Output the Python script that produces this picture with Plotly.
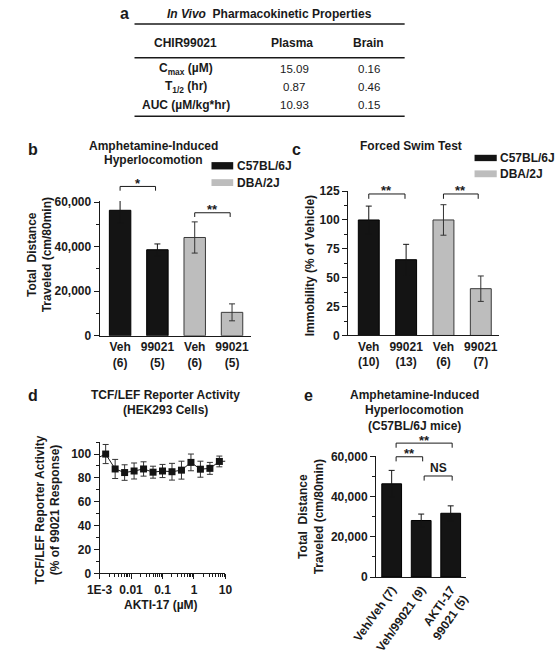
import plotly.graph_objects as go

# ---------------- data ----------------
table_title = "<b><i>In Vivo</i>  Pharmacokinetic Properties</b>"
table_header = ["CHIR99021", "Plasma", "Brain"]
table_params = ["C<sub>max</sub> (µM)", "T<sub>1/2</sub> (hr)", "AUC (µM/kg*hr)"]
plasma_vals = ["15.09", "0.87", "10.93"]
brain_vals = ["0.16", "0.46", "0.15"]

b_labels = ["Veh<br>(6)", "99021<br>(5)", "Veh<br>(6)", "99021<br>(5)"]
b_c57_mean = [56300, 38600]
b_c57_sem = [5800, 2600]
b_dba_mean = [44100, 10500]
b_dba_sem = [7000, 3800]
b_sig = [(0, 0.95, 67000, "*"), (2, 2.95, 55200, "**")]

c_labels = ["Veh<br>(10)", "99021<br>(13)", "Veh<br>(6)", "99021<br>(7)"]
c_c57_mean = [100, 65.6]
c_c57_sem = [12, 13.3]
c_dba_mean = [100, 40.5]
c_dba_sem = [13.2, 11]
c_sig = [(0, 0.97, 122.5, "**"), (2, 2.93, 122.5, "**")]

d_conc = [0.0015625, 0.003125, 0.00625, 0.0125, 0.025, 0.05, 0.1, 0.2, 0.4, 0.8, 1.6, 3.2, 6.4]
d_mean = [100, 87.5, 84.5, 85.8, 87.5, 84.8, 85.8, 85.2, 86.5, 93, 87.3, 88, 93.8]
d_sem = [8, 8, 6.5, 6.7, 6, 5, 5.5, 7, 7.5, 7, 6.7, 5, 4.5]
d_line_start = (0.001, 97.5)
d_line_end = (10, 94)
d_tickvals = [0.001, 0.01, 0.1, 1, 10]
d_ticktext = ["1E-3", "0.01", "0.1", "1", "10"]

e_labels = ["Veh/Veh (7)", "Veh/99021 (9)", "AKTI-17<br>99021 (5)"]
e_mean = [46500, 28200, 31800]
e_sem = [6700, 3200, 3700]
e_sig = [(0.15, 2.05, 66800, "**"), (0.15, 1.05, 60000, "**"), (1.1, 2.05, 50400, "NS")]

# ---------------- layout helpers ----------------
W, H = 559, 654
FONT = "Liberation Sans, Arial, Helvetica, sans-serif"
INK = "#1a1a1a"
BLACK_BAR = "#141414"
GRAY_BAR = "#bdbdbd"


def px(x):
    return x / W


def py(y):
    return 1 - y / H


fig = go.Figure()
annotations = []
shapes = []


def ann(text, x, y, size=12, bold=True, xanchor="center", yanchor="middle", angle=0, **kw):
    annotations.append(dict(
        text=text, x=px(x), y=py(y), xref="paper", yref="paper", showarrow=False,
        xanchor=xanchor, yanchor=yanchor, textangle=angle, borderpad=0,
        font=dict(family=FONT, size=size, color=INK, weight="bold" if bold else "normal"), **kw))


def hline(x0, x1, y, w=1.5):
    shapes.append(dict(type="line", xref="paper", yref="paper", x0=px(x0), x1=px(x1),
                       y0=py(y), y1=py(y), line=dict(color=INK, width=w)))


def rect(x0, x1, y0, y1, color):
    shapes.append(dict(type="rect", xref="paper", yref="paper", x0=px(x0), x1=px(x1),
                       y0=py(y1), y1=py(y0), line=dict(width=0), fillcolor=color))


# ---------------- panel a: table ----------------
ann("a", 106, 7, size=16)
ann(table_title, 260, 7, size=12)
hline(117, 403, 17.5)
col_x = [171, 284, 365]
for i, h in enumerate(table_header):
    ann(h, col_x[i], 37, size=12)
hline(117, 403, 52)
row_y = [63.5, 82, 100]
for i in range(3):
    ann(table_params[i], col_x[0], row_y[i], size=12)
    ann(plasma_vals[i], col_x[1] + 2, row_y[i], size=11.5, bold=False)
    ann(brain_vals[i], col_x[2], row_y[i], size=11.5, bold=False)
hline(117, 403, 112)

# ---------------- axes ----------------
tickfont = dict(family=FONT, size=12, color=INK, weight="bold")
base_axis = dict(showline=True, linecolor=INK, linewidth=1, showgrid=False, zeroline=False,
                 tickfont=tickfont, fixedrange=True, tickcolor=INK)


def yax(dom_bottom, dom_top, rng, tickvals, ticktext, minor_dtick, anchor):
    d = dict(base_axis)
    d.update(domain=[py(dom_bottom), py(dom_top)], range=rng, tickvals=tickvals, ticktext=ticktext,
             ticks="outside", ticklen=5, tickwidth=1, anchor=anchor,
             minor=dict(ticks="outside", ticklen=3, tickwidth=1, tickcolor=INK, dtick=minor_dtick,
                        showgrid=False))
    return d


def xcat(x0, x1, rng, labels, anchor, angle=0):
    d = dict(base_axis)
    d.update(domain=[px(x0), px(x1)], range=rng, tickvals=list(range(len(labels))), ticktext=labels,
             ticks="", anchor=anchor, tickangle=angle)
    return d


def hidden_y(dom_bottom, dom_top_main, dom_top, main_range_top, anchor):
    top = main_range_top * (dom_bottom - dom_top) / (dom_bottom - dom_top_main)
    return dict(domain=[py(dom_bottom), py(dom_top)], range=[0, top], visible=False,
                anchor=anchor, fixedrange=True)


# panel b
b_bot, b_top, b_rt = 337, 198.8, 60500
layout_axes = {}
layout_axes["xaxis"] = xcat(80, 240, [-0.55, 3.5], b_labels, "y")
layout_axes["yaxis"] = yax(b_bot, b_top, [0, b_rt], [0, 20000, 40000, 60000],
                           ["0", "20,000", "40,000", "60,000"], 10000, "x")
layout_axes["yaxis5"] = hidden_y(b_bot, b_top, 150, b_rt, "x")

# panel c
c_bot, c_top, c_rt = 336.7, 188.7, 125
layout_axes["xaxis2"] = xcat(343, 503, [-0.557, 3.49], c_labels, "y2")
layout_axes["yaxis2"] = yax(c_bot, c_top, [0, c_rt], [0, 25, 50, 75, 100, 125],
                            ["0", "25", "50", "75", "100", "125"], 12.5, "x2")
layout_axes["yaxis6"] = hidden_y(c_bot, c_top, 165, c_rt, "x2")

# panel d
d_bot, d_top = 580.7, 446
xd = dict(base_axis)
minor_vals = [m * 10 ** e for e in range(-3, 1) for m in range(2, 10)]
xd.update(domain=[px(80), px(213.3)], type="log", range=[-3, 1], tickvals=d_tickvals,
          ticktext=d_ticktext, ticks="outside", ticklen=5, tickwidth=1, anchor="y3",
          minor=dict(ticks="outside", ticklen=3, tickwidth=1, tickcolor=INK, tickvals=minor_vals,
                     showgrid=False))
layout_axes["xaxis3"] = xd
layout_axes["yaxis3"] = yax(d_bot, d_top, [0, 110], [0, 20, 40, 60, 80, 100],
                            ["0", "20", "40", "60", "80", "100"], 10, "x3")

# panel e
e_bot, e_top, e_rt = 584.3, 460, 60500
layout_axes["xaxis4"] = xcat(372.7, 468, [-0.53, 2.52], e_labels, "y4", angle=-55)
layout_axes["yaxis4"] = yax(e_bot, e_top, [0, e_rt], [0, 20000, 40000, 60000],
                            ["0", "20,000", "40,000", "60,000"], 10000, "x4")
layout_axes["yaxis7"] = hidden_y(e_bot, e_top, 432, e_rt, "x4")


# ---------------- traces ----------------
def bars(xpos, means, sems, color, line_color, err_color, width, xa, ya):
    fig.add_trace(go.Bar(
        x=xpos, y=means, width=width, xaxis=xa, yaxis=ya, showlegend=False,
        marker=dict(color=color, line=dict(color=line_color, width=1)),
        error_y=dict(type="data", array=sems, symmetric=True, color=err_color,
                     thickness=1, width=3)))


def brackets(sig, drop, xa, ya, yshift_star=3, yshift_ns=8):
    for x0, x1, yv, txt in sig:
        fig.add_trace(go.Scatter(
            x=[x0, x0, x1, x1], y=[yv - drop, yv, yv, yv - drop], mode="lines",
            line=dict(color=INK, width=1), xaxis=xa, yaxis=ya, showlegend=False,
            hoverinfo="skip"))
        is_ns = txt == "NS"
        annotations.append(dict(
            text=txt, x=(x0 + x1) / 2, y=yv, xref=xa, yref=ya, showarrow=False,
            xanchor="center", yanchor="middle", borderpad=0,
            yshift=yshift_ns if is_ns else yshift_star,
            font=dict(family=FONT, size=12 if is_ns else 13, color=INK, weight="bold")))


# b
bars([0, 1], b_c57_mean, b_c57_sem, BLACK_BAR, "#000000", BLACK_BAR, 0.575, "x", "y")
bars([2, 3], b_dba_mean, b_dba_sem, GRAY_BAR, "#3a3a3a", "#333333", 0.575, "x", "y")
brackets(b_sig, 1900, "x", "y5")

# c
bars([0, 1], c_c57_mean, c_c57_sem, BLACK_BAR, "#000000", BLACK_BAR, 0.56, "x2", "y2")
bars([2, 3], c_dba_mean, c_dba_sem, GRAY_BAR, "#3a3a3a", "#333333", 0.56, "x2", "y2")
brackets(c_sig, 4.2, "x2", "y6")

# d
fig.add_trace(go.Scatter(
    x=[d_line_start[0]] + d_conc + [d_line_end[0]],
    y=[d_line_start[1]] + d_mean + [d_line_end[1]],
    mode="lines", line=dict(color=INK, width=1), xaxis="x3", yaxis="y3",
    showlegend=False, hoverinfo="skip"))
fig.add_trace(go.Scatter(
    x=d_conc, y=d_mean, mode="markers", xaxis="x3", yaxis="y3", showlegend=False,
    cliponaxis=False,
    marker=dict(symbol="square", size=7, color=BLACK_BAR),
    error_y=dict(type="data", array=d_sem, color="#333333", thickness=1, width=3)))

# e
bars([0, 1, 2], e_mean, e_sem, BLACK_BAR, "#000000", BLACK_BAR, 0.67, "x4", "y4")
brackets(e_sig, 2300, "x4", "y7")

# ---------------- titles, legends, labels ----------------
# b
ann("b", 9, 146, size=16)
ann("Amphetamine-Induced", 137, 142.5)
ann("Hyperlocomotion", 137, 156.5)
rect(198.5, 221.5, 159, 166.5, BLACK_BAR)
rect(198.5, 221.5, 176.5, 183.5, GRAY_BAR)
ann("C57BL/6J", 224, 162.5, xanchor="left")
ann("DBA/2J", 224, 180, xanchor="left")
ann("Total  Distance<br>Traveled (cm/80min)", 16.5, 254, angle=-90)

# c
ann("c", 289, 146, size=16)
ann("Forced Swim Test", 410, 142.5)
rect(477, 500.5, 151.5, 158, BLACK_BAR)
rect(477, 500.5, 167.5, 174.5, GRAY_BAR)
ann("C57BL/6J", 503, 155, xanchor="left")
ann("DBA/2J", 503, 171, xanchor="left")
ann("Immobility (% of Vehicle)", 302.5, 265, angle=-90)

# d
ann("d", 10, 398, size=16)
ann("TCF/LEF Reporter Activity", 150, 398)
ann("(HEK293 Cells)", 150, 413.5)
ann("TCF/LEF Reporter Activity<br>(% of 99021 Response)", 25.5, 516, angle=-90)
ann("AKTI-17 (µM)", 145, 613)

# e
ann("e", 301, 398, size=16)
ann("Amphetamine-Induced", 413, 398)
ann("Hyperlocomotion", 413, 413.5)
ann("(C57BL/6J mice)", 413, 429)
ann("Total  Distance<br>Traveled (cm/80min)", 304, 523, angle=-90)

fig.update_layout(
    width=W, height=H, autosize=False,
    margin=dict(l=0, r=0, t=0, b=0, pad=0),
    paper_bgcolor="white", plot_bgcolor="rgba(0,0,0,0)",
    barmode="overlay", showlegend=False,
    font=dict(family=FONT, size=12, color=INK),
    annotations=annotations, shapes=shapes,
    **layout_axes,
)

fig.write_html("out.html", config={"displayModeBar": False},
               post_script="document.body.style.margin='0px';")
